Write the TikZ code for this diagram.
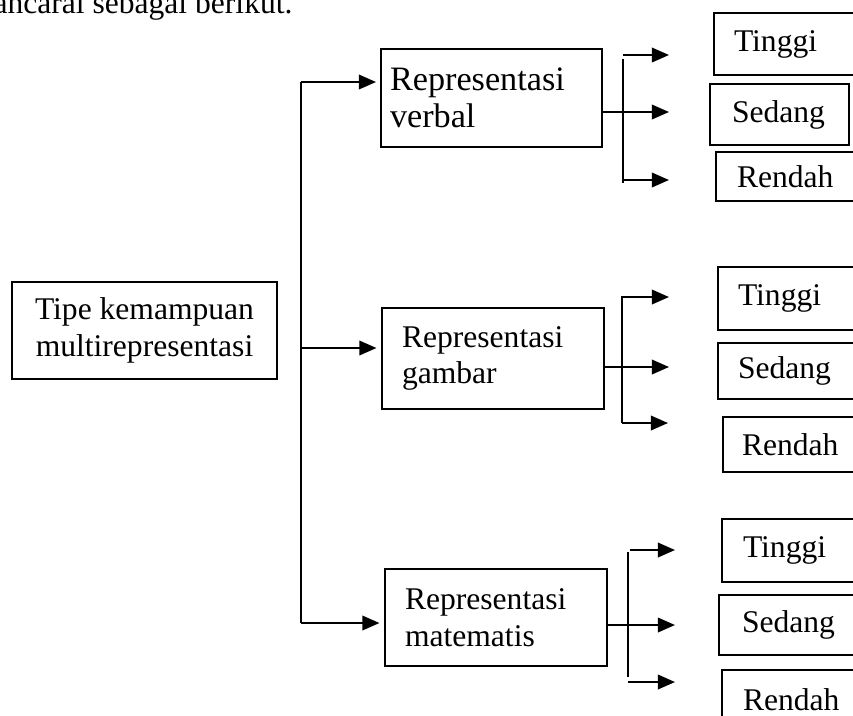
\documentclass[tikz,border=0pt]{standalone}
\usepackage{fontspec}
\setmainfont{Liberation Serif}
\usetikzlibrary{arrows.meta}
\newcommand\mynohyph{\hyphenpenalty 10000\relax}
\newcommand\mkbox[7]{%
  \pgfmathsetmacro\mkW{(#4-#2)*0.38}%
  \pgfmathsetmacro\mkH{(#5-#3)*0.38}%
  \pgfmathsetmacro\mkO{#6*0.38}%
  \pgfmathsetmacro\mkT{(#4-#2-2*#6)*0.38}%
  \pgfmathsetmacro\mkX{(#2+#4)/2}%
  \pgfmathsetmacro\mkY{(#3+#5)/2}%
  \node[box, minimum width=\mkW pt, minimum height=\mkH pt, text width=\mkT pt, inner xsep=\mkO pt] (#1) at (\mkX,\mkY) {#7};%
}
\tikzset{
  txt/.style={font={\fontsize{12}{14}\selectfont\mynohyph}},
  box/.style={txt, draw, line width=0.6pt, rectangle, inner ysep=0pt, align=left},
  ln/.style={line width=0.8pt},
  arr/.style={line width=0.8pt, -{Triangle[length=6.5pt,width=5.5pt]}},
}
\begin{document}
\begin{tikzpicture}[x=0.38pt, y=-0.38pt]
\useasboundingbox (0,0) rectangle (853,715);
\clip (0,0) rectangle (853,715);

% clipped caption line at the top
\node[txt, anchor=base east, inner sep=0pt] (cap) at (293,13) {ancarai sebagai berikut.};

% main box
\node[box, align=center, minimum width=100.7pt, minimum height=36.9pt, inner xsep=2pt] (main) at (144.5,330.5) {Tipe kemampuan\\multirepresentasi};

% second level
\mkbox{verbal}{381}{49}{602}{147}{9}{\fontsize{13}{13.5}\selectfont Representasi\\verbal}
\mkbox{gambar}{382}{308}{604}{409}{20}{Representasi\\gambar}
\mkbox{matematis}{385}{569}{607}{666}{20}{Representasi\\matematis}

% third level
\mkbox{t1}{714}{13}{870}{75}{20}{Tinggi}
\mkbox{s1}{710}{84}{849}{145}{22}{Sedang}
\mkbox{r1}{716}{152}{870}{201}{21}{Rendah}
\mkbox{t2}{718}{267}{870}{330}{20}{Tinggi}
\mkbox{s2}{718}{343}{870}{399}{20}{Sedang}
\mkbox{r2}{723}{417}{870}{472}{19}{Rendah}
\mkbox{t3}{722}{519}{870}{582}{21}{Tinggi}
\mkbox{s3}{719}{595}{870}{655}{23}{Sedang}
\mkbox{r3}{722}{670}{870}{730}{21}{Rendah}

% trunk
\coordinate (J1) at (301,82);
\coordinate (J2) at (301,348);
\coordinate (J3) at (301,623);
\draw[ln] (J1) -- (J3);
\draw[arr, shorten >=1.6pt] (J1) -- (verbal.west |- J1);
\draw[arr, shorten >=1.8pt] (J2) -- (gambar.west |- J2);
\draw[arr, shorten >=1.8pt] (J3) -- (matematis.west |- J3);

% group 1
\coordinate (a1) at (623,55);
\coordinate (a1t) at (669,55);
\coordinate (v1a) at (623,59);
\coordinate (v1b) at (623,183);
\coordinate (m1t) at (669,112);
\coordinate (b1) at (623,180);
\coordinate (b1t) at (669,180);
\draw[ln] (v1a) -- (v1b);
\draw[arr] (a1) -- (a1t);
\draw[arr] (verbal.east |- m1t) -- (m1t);
\draw[arr] (b1) -- (b1t);

% group 2
\coordinate (v2a) at (622,297);
\coordinate (a2t) at (669,297);
\coordinate (v2b) at (622,423);
\coordinate (b2t) at (668,423);
\coordinate (m2t) at (669,367);
\draw[arr] (v2b) -- (v2a) -- (a2t);
\draw[arr] (v2b) -- (b2t);
\draw[arr] (gambar.east |- m2t) -- (m2t);

% group 3
\coordinate (a3) at (630,550);
\coordinate (a3t) at (675,550);
\coordinate (v3a) at (628,552);
\coordinate (v3b) at (628,677);
\coordinate (m3t) at (675,625);
\coordinate (b3) at (628,682);
\coordinate (b3t) at (675,682);
\draw[ln] (v3a) -- (v3b);
\draw[arr] (a3) -- (a3t);
\draw[arr] (matematis.east |- m3t) -- (m3t);
\draw[arr] (b3) -- (b3t);
\end{tikzpicture}
\end{document}
